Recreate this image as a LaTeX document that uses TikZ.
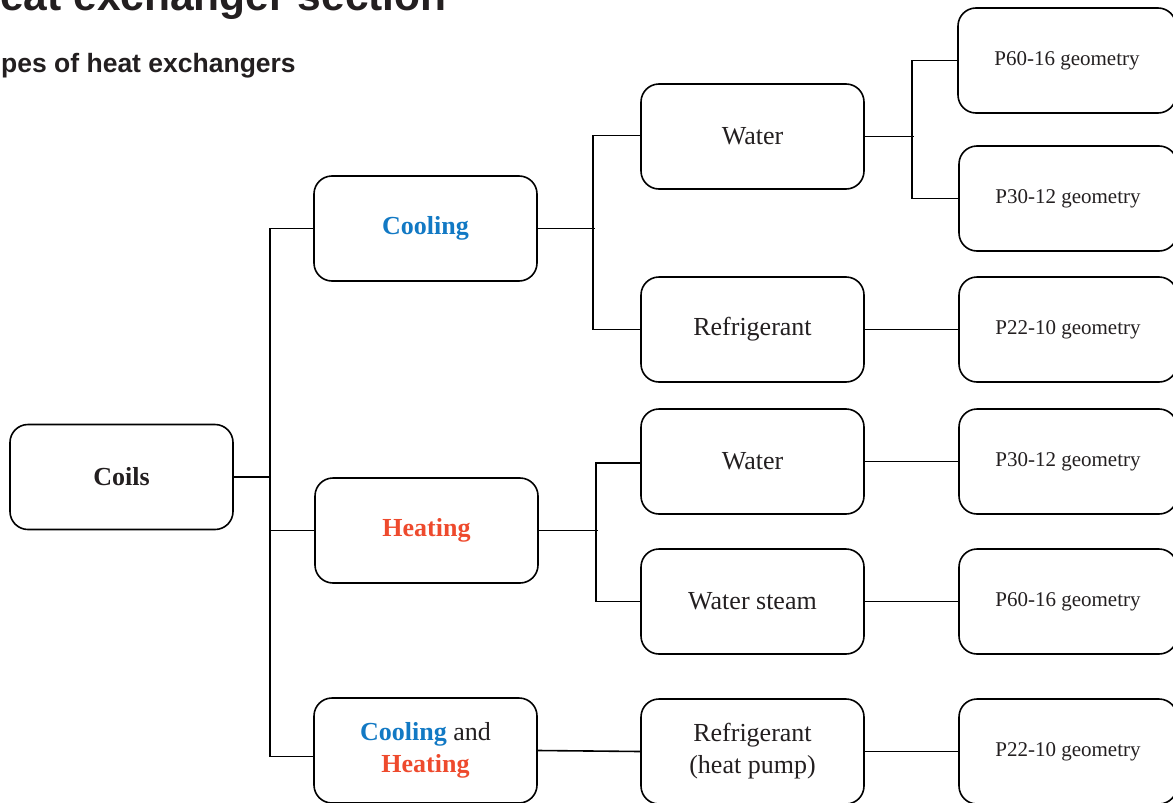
\documentclass[tikz,border=0pt]{standalone}
\usepackage{fontspec}
\setmainfont{Liberation Serif}
\newfontfamily\titlefont{Liberation Sans}
\definecolor{cblue}{RGB}{18,121,196}
\definecolor{hred}{RGB}{238,74,45}
\definecolor{txt}{RGB}{35,31,32}
\begin{document}
\begin{tikzpicture}[x=1pt,y=-1pt,
  box/.style={draw=black,line width=1.6pt,rounded corners=18pt,minimum width=223pt,minimum height=105pt,
    align=center,inner sep=0pt,text=txt,font=\fontsize{26}{32}\selectfont},
  gbox/.style={box,minimum width=218pt,font=\fontsize{21}{25}\selectfont},
  conn/.style={draw=black,line width=1.6pt}]
\useasboundingbox (0,0) rectangle (1173,803);
\clip (0,0) rectangle (1173,803);
% titles
\node[anchor=base west,inner sep=0pt,text=txt,font=\titlefont\bfseries\fontsize{42.5}{48}\selectfont] (title) at (0,10) {eat exchanger section};
\node[anchor=base west,inner sep=0pt,text=txt,font=\titlefont\bfseries\fontsize{26.5}{30}\selectfont] (subtitle) at (1,72) {pes of heat exchangers};
% level 0
\node[box] (coils) at (121.5,477) {\bfseries Coils};
% level 1
\node[box] (cool) at (425.5,228.5) {\bfseries\color{cblue}Cooling};
\node[box] (heat) at (426.5,530.5) {\bfseries\color{hred}Heating};
\node[box] (ch) at (425.5,750.5) {{\bfseries\color{cblue}Cooling} and\\{\bfseries\color{hred}Heating}};
% level 2
\node[box] (cw) at (752.5,136.5) {Water};
\node[box] (cr) at (752.5,329.5) {Refrigerant};
\node[box] (hw) at (752.5,461.5) {Water};
\node[box] (hs) at (752.5,601.5) {Water steam};
\node[box] (hp) at (752.5,751.5) {Refrigerant\\(heat pump)};
% level 3
\node[gbox] (g1) at (1067,60.5) {P60-16 geometry};
\node[gbox] (g2) at (1068,198.5) {P30-12 geometry};
\node[gbox] (g3) at (1068,329.5) {P22-10 geometry};
\node[gbox] (g4) at (1068,461.5) {P30-12 geometry};
\node[gbox] (g5) at (1068,601.5) {P60-16 geometry};
\node[gbox] (g6) at (1068,751.5) {P22-10 geometry};
% connectors: coils
\draw[conn] (cool.west) -- ++(-43,0) coordinate (t1) |- ([yshift=-6pt]ch.west);
\draw[conn] (heat.west) -- (heat.west -| t1);
\draw[conn] (coils.east) -- (coils.east -| t1);
% cooling
\draw[conn] (cool.east) -- ++(57,0) coordinate (t2);
\draw[conn] ([yshift=1pt]cw.west) -- ++(-47,0) |- (cr.west);
% heating
\draw[conn] (heat.east) -- ++(59,0) coordinate (t3);
\draw[conn] ([yshift=-1.5pt]hw.west) -- ++(-44,0) |- (hs.west);
% water cooling
\draw[conn] (cw.east) -- ++(49,0) coordinate (t4);
\draw[conn] (g1.west) -- ++(-45,0) |- (g2.west);
% straight links
\draw[conn] (cr.east) -- (g3.west);
\draw[conn] (hw.east) -- (g4.west);
\draw[conn] (hs.east) -- (g5.west);
\draw[conn] (hp.east) -- (g6.west);
\draw[conn] (ch.east) -- (hp.west);
\end{tikzpicture}
\end{document}
